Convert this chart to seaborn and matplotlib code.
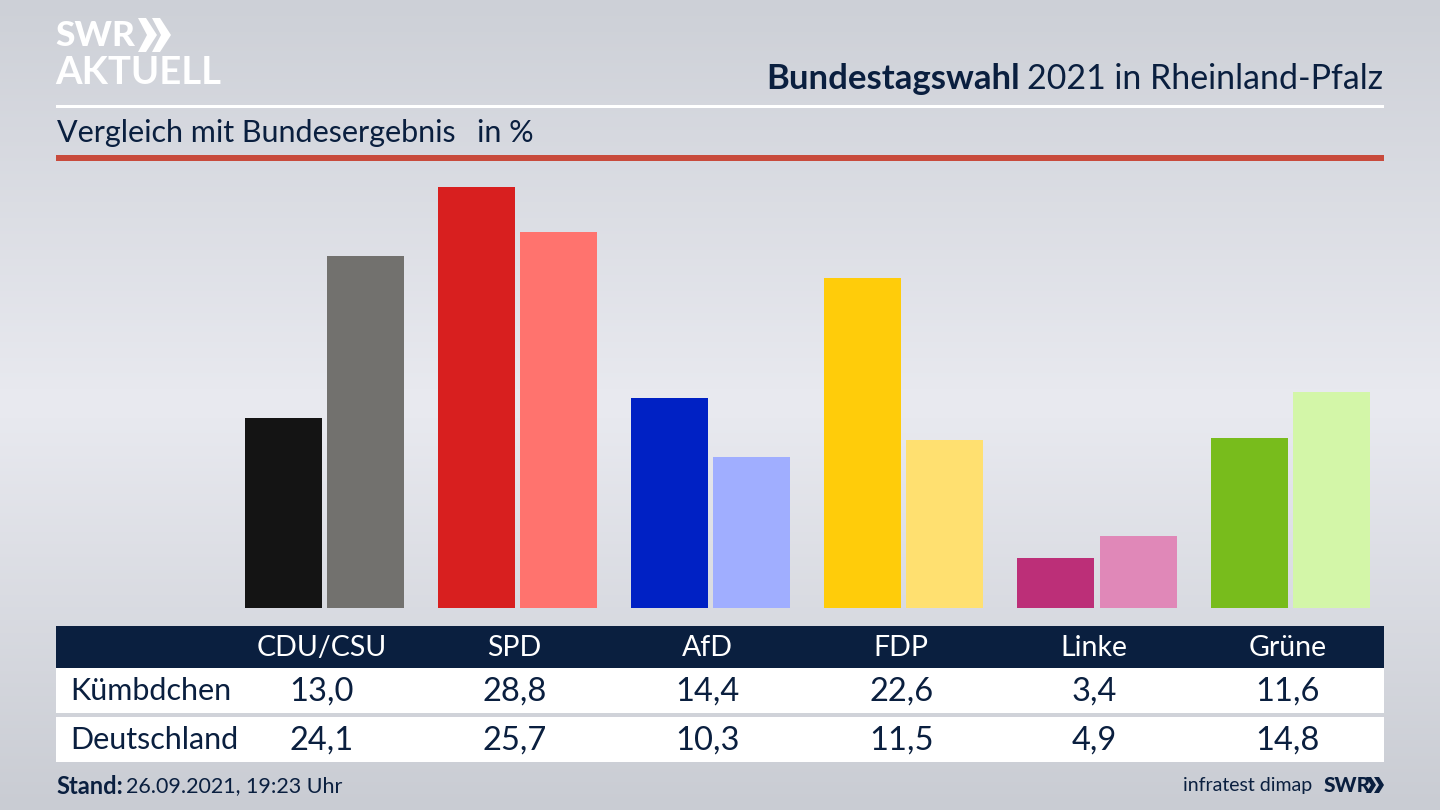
import numpy as np
import pandas as pd
import matplotlib
matplotlib.use("Agg")
import matplotlib.pyplot as plt
from matplotlib.patches import Rectangle, Polygon
from matplotlib.colors import LinearSegmentedColormap
import seaborn as sns

parties = ["CDU/CSU", "SPD", "AfD", "FDP", "Linke", "Grüne"]
regions = ["Kümbdchen", "Deutschland"]
kuembdchen = [13.0, 28.8, 14.4, 22.6, 3.4, 11.6]
deutschland = [24.1, 25.7, 10.3, 11.5, 4.9, 14.8]
colors_local = ["#141414", "#d81f1f", "#0021c4", "#ffcc0a", "#bc2f78", "#78bc1c"]
colors_national = ["#72716e", "#ff736e", "#a0aeff", "#ffe070", "#e088b8", "#d3f6a8"]

NAVY = "#0a1f3f"
FONT = "Lato"
sns.set_theme(style="white")
plt.rcParams["font.family"] = [FONT, "DejaVu Sans"]

W, H = 1440, 810
fig = plt.figure(figsize=(W / 100, H / 100), dpi=100)

# background gradient
bg = fig.add_axes([0, 0, 1, 1], zorder=0)
bg.axis("off")
cmap = LinearSegmentedColormap.from_list(
    "bg", [(0, "#cdd0d7"), (0.5, "#e9eaf0"), (1, "#c9ccd3")])
bg.imshow(np.linspace(0, 1, 256).reshape(-1, 1), aspect="auto", cmap=cmap,
          extent=[0, W, H, 0])
bg.set_xlim(0, W)
bg.set_ylim(H, 0)

# bars
base_y, top_y = 608, 187
scale = (base_y - top_y) / 28.8
step = 193.2
x0 = 324.2 - step / 2
ax = fig.add_axes([x0 / W, 1 - base_y / H, 6 * step / W, (base_y - 160) / H], zorder=1)
df = pd.DataFrame({
    "Partei": parties * 2,
    "Wert": kuembdchen + deutschland,
    "Gebiet": [regions[0]] * 6 + [regions[1]] * 6,
})
sns.barplot(data=df, x="Partei", y="Wert", hue="Gebiet", hue_order=regions, ax=ax,
            width=0.849, gap=0.061, legend=False, saturation=1, errorbar=None)
for cont, cols in zip(ax.containers, [colors_local, colors_national]):
    for patch, c in zip(cont, cols):
        patch.set_facecolor(c)
        patch.set_edgecolor("none")
ax.set_xlim(-0.5, 5.5)
ax.set_ylim(0, (base_y - 160) / scale)
ax.axis("off")

# overlay: header, table, footer
ov = fig.add_axes([0, 0, 1, 1], zorder=2)
ov.set_xlim(0, W)
ov.set_ylim(H, 0)
ov.axis("off")
ov.patch.set_alpha(0)


def rect(x0, y0, x1, y1, c):
    ov.add_patch(Rectangle((x0, y0), x1 - x0, y1 - y0, fc=c, ec="none"))


rect(56, 104.5, 1384, 107.5, "white")
rect(56, 155, 1384, 160.5, "#c84a3c")
rect(56, 626, 1384, 668, NAVY)
rect(56, 668, 1384, 713, "white")
rect(56, 717, 1384, 762, "white")

# logo
ov.text(55, 36, "SWR", color="white", fontsize=25.5, fontweight="black", va="center", ha="left")
ov.text(55, 73, "AKTUELL", color="white", fontsize=27.5, fontweight="bold", va="center", ha="left")
for dx in (0, 14):
    ov.add_patch(Polygon([(138 + dx, 18), (146 + dx, 18), (157 + dx, 35),
                          (146 + dx, 52), (138 + dx, 52), (147 + dx, 35)],
                         fc="white", ec="none"))

# title
ov.text(1383, 79, "2021 in Rheinland-Pfalz", color=NAVY, fontsize=24.4, va="center", ha="right")
ov.text(1020, 79, "Bundestagswahl", color=NAVY, fontsize=25, fontweight="bold", va="center", ha="right")
ov.text(57, 133, "Vergleich mit Bundesergebnis", color=NAVY, fontsize=22, va="center", ha="left")
ov.text(477, 133, "in %", color=NAVY, fontsize=22, va="center", ha="left")

# table
for i, p in enumerate(parties):
    cx = 321.5 + step * i
    ov.text(cx, 648, p, color="white", fontsize=20.5, ha="center", va="center")
    ov.text(cx, 692, f"{kuembdchen[i]:.1f}".replace(".", ","), color=NAVY, fontsize=23.5,
            ha="center", va="center")
    ov.text(cx, 741, f"{deutschland[i]:.1f}".replace(".", ","), color=NAVY, fontsize=23.5,
            ha="center", va="center")
ov.text(70, 691, regions[0], color=NAVY, fontsize=22, ha="left", va="center")
ov.text(70, 740, regions[1], color=NAVY, fontsize=22, ha="left", va="center")

# footer
ov.text(56, 786, "Stand:", color=NAVY, fontsize=17, fontweight="bold", ha="left", va="center")
ov.text(126, 786, "26.09.2021, 19:23 Uhr", color=NAVY, fontsize=15.5, ha="left", va="center")
ov.text(1312, 785, "infratest dimap", color=NAVY, fontsize=14, ha="right", va="center")
ov.text(1324, 785, "SWR", color=NAVY, fontsize=15, fontweight="black", ha="left", va="center")
for dx in (0, 8):
    ov.add_patch(Polygon([(1366 + dx, 777), (1371 + dx, 777), (1376 + dx, 785),
                          (1371 + dx, 793), (1366 + dx, 793), (1371 + dx, 785)],
                         fc=NAVY, ec="none"))

fig.savefig("out.png", dpi=100)
